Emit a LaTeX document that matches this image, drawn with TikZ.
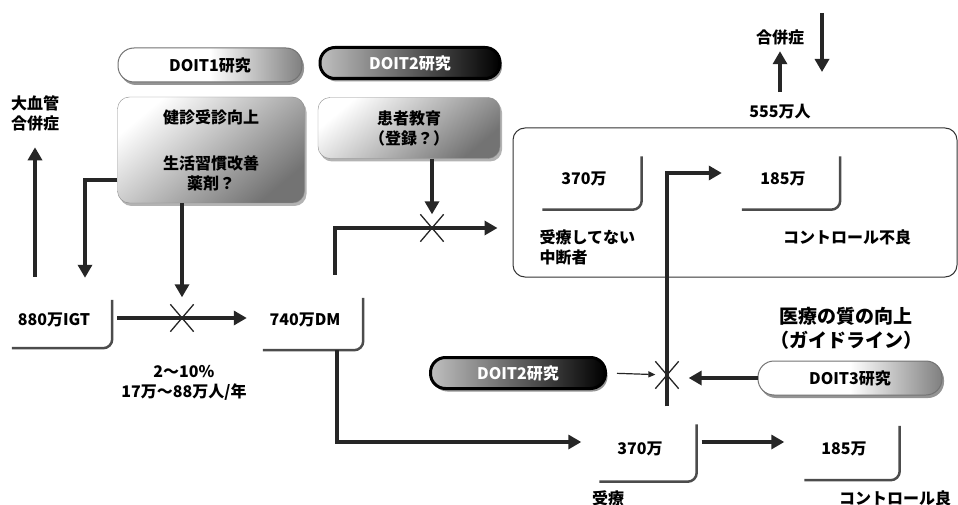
\documentclass[tikz,border=0pt]{standalone}
\usepackage{fontspec}
\setmainfont{Noto Sans CJK JP}
\usetikzlibrary{shapes.misc,arrows.meta,positioning,calc,shadows}

\begin{document}
\begin{tikzpicture}[
            x=1pt, y=-1pt,
            font=\fontsize{16}{20}\selectfont\bfseries,
            arrow/.style={-{Triangle[length=13pt,width=14pt]}, line width=4.5pt, draw=black!85},
            thinarrow/.style={-{Triangle[length=7pt,width=6pt]}, line width=1.2pt, draw=black!85},
            pill/.style={rounded corners=16pt, draw=black!55, line width=1pt, minimum width=184pt, minimum height=34pt, left color=white, right color=black!50, middle color=white, drop shadow={shadow xshift=2pt, shadow yshift=-3pt, fill=black!60, opacity=.7}},
            darkpill/.style={rounded corners=15pt, draw=black, line width=3pt, minimum height=31pt, left color=black!25, right color=black, text=white, drop shadow={shadow xshift=2pt, shadow yshift=-3pt, fill=black!60, opacity=.7}},
            memo/.style={rounded corners=12pt, draw=black!45, top color=white, bottom color=black!55, shading angle=40, align=center, drop shadow={shadow xshift=2pt, shadow yshift=-3pt, fill=black!50, opacity=.6}},
            numbox/.style={inner sep=0pt, text depth=10pt, execute at end node={\hspace*{16pt}}},
            corner/.style={draw=black!70, line width=2.5pt, rounded corners=9pt},
            cross/.style={cross out, draw=black!85, line width=1.3pt, inner sep=0pt, minimum width=22pt, minimum height=26pt}
        ]
            \useasboundingbox (0,0) rectangle (958,505);

            % top left: studies and measures
            \node[pill] (doit1) at (210,65) {DOIT1研究};
            \node[darkpill, minimum width=180pt] (doit2a) at (410,63) {DOIT2研究};
            \node[memo, minimum width=187pt, minimum height=106pt] (kenshin) at (211,150) {健診受診向上\\[26pt]生活習慣改善\\薬剤？};
            \node[memo, minimum width=182pt, minimum height=61pt] (kanja) at (409,128) {患者教育\\（登録？）};
            \node[align=center] (taikekkan) at (35,113) {大血管\\合併症};

            % IGT -> DM
            \node[numbox, minimum width=100pt, minimum height=48pt] (igt) at (62,324) {880万IGT};
            \node[numbox, minimum width=100pt, minimum height=52pt] (dm) at (313,324) {740万DM};
            \node[cross] (x1) at (182,318) {};
            \node[cross] (x2) at (432,228) {};
            \node[cross] (x3) at (667,375) {};
            \node[align=center] (rate) at (184,383) {2～10\%\\17万～88万人/年};

            % untreated group
            \node[draw=black!80, line width=1pt, rounded corners=12pt, minimum width=444pt, minimum height=149pt] (rbox) at (735,202.5) {};
            \node[numbox, minimum width=99pt, minimum height=53pt] (u370) at (592,183) {370万};
            \node[numbox, minimum width=98pt, minimum height=53pt] (u185) at (791,183) {185万};
            \node[align=left, anchor=west] (chudan) at (536,247) {受療してない\\中断者};
            \node (furyo) at (847,237) {コントロール不良};
            \node (n555) at (780,112) {555万人};
            \node (gappei) at (780,37) {合併症};
            \coordinate (intop) at (822,13);
            \coordinate (inbot) at (822,72);

            % treated group
            \node[font=\fontsize{19}{24}\selectfont\bfseries, align=center] (guide) at (846,328) {医療の質の向上\\（ガイドライン）};
            \node[darkpill, minimum width=175pt] (doit2b) at (518,373) {DOIT2研究};
            \node[pill] (doit3) at (850,378) {DOIT3研究};
            \node[numbox, minimum width=97pt, minimum height=57pt] (t370) at (648,453) {370万};
            \node[numbox, minimum width=95pt, minimum height=54pt] (t185) at (852,453) {185万};
            \node (juryo) at (608,498) {受療};
            \node (ryo) at (895,498) {コントロール良};

            \foreach \n in {igt,dm,u370,u185,t370,t185}
                \draw[corner] (\n.north east) -- (\n.south east) -- (\n.south west);

            \draw[arrow, shorten >=13pt] ($(igt.north)+(-27,-23)$) -- (taikekkan);
            \draw[arrow] ([yshift=-30pt]kenshin.west) -| ($(igt.north)+(23,-22)$);
            \draw[arrow, shorten >=7pt] (kenshin.south -| x1) -- (x1);
            \draw[arrow, shorten <=5pt, shorten >=16pt] ([yshift=6pt]igt.east) -- ([yshift=6pt]dm.west);
            \draw[arrow] (kanja.south -| x2) -- (x2);
            \draw[arrow] ($(dm.north)+(22,-23)$) |- ($(x2 -| rbox.west)+(-15,0)$);
            \draw[arrow] ($(dm.south)+(24,0)$) |- ($(t370.west)+(-18,-11)$);
            \draw[arrow, shorten <=5pt, shorten >=20pt] ([yshift=11pt]t370.east) -- ([yshift=11pt]t185.west);
            \draw[arrow] ($(t370.north)+(19,-18)$) |- ($(u185.west)+(-20,-10)$);
            \draw[thinarrow, shorten <=10pt] (doit2b.east) -- (x3);
            \draw[arrow, shorten >=10pt] (doit3.west) -- (x3.east |- doit3.west);
            \draw[arrow, shorten <=9pt, shorten >=3pt] (n555) -- (gappei);
            \draw[arrow] (intop) -- (inbot);
        \end{tikzpicture}
\end{document}
